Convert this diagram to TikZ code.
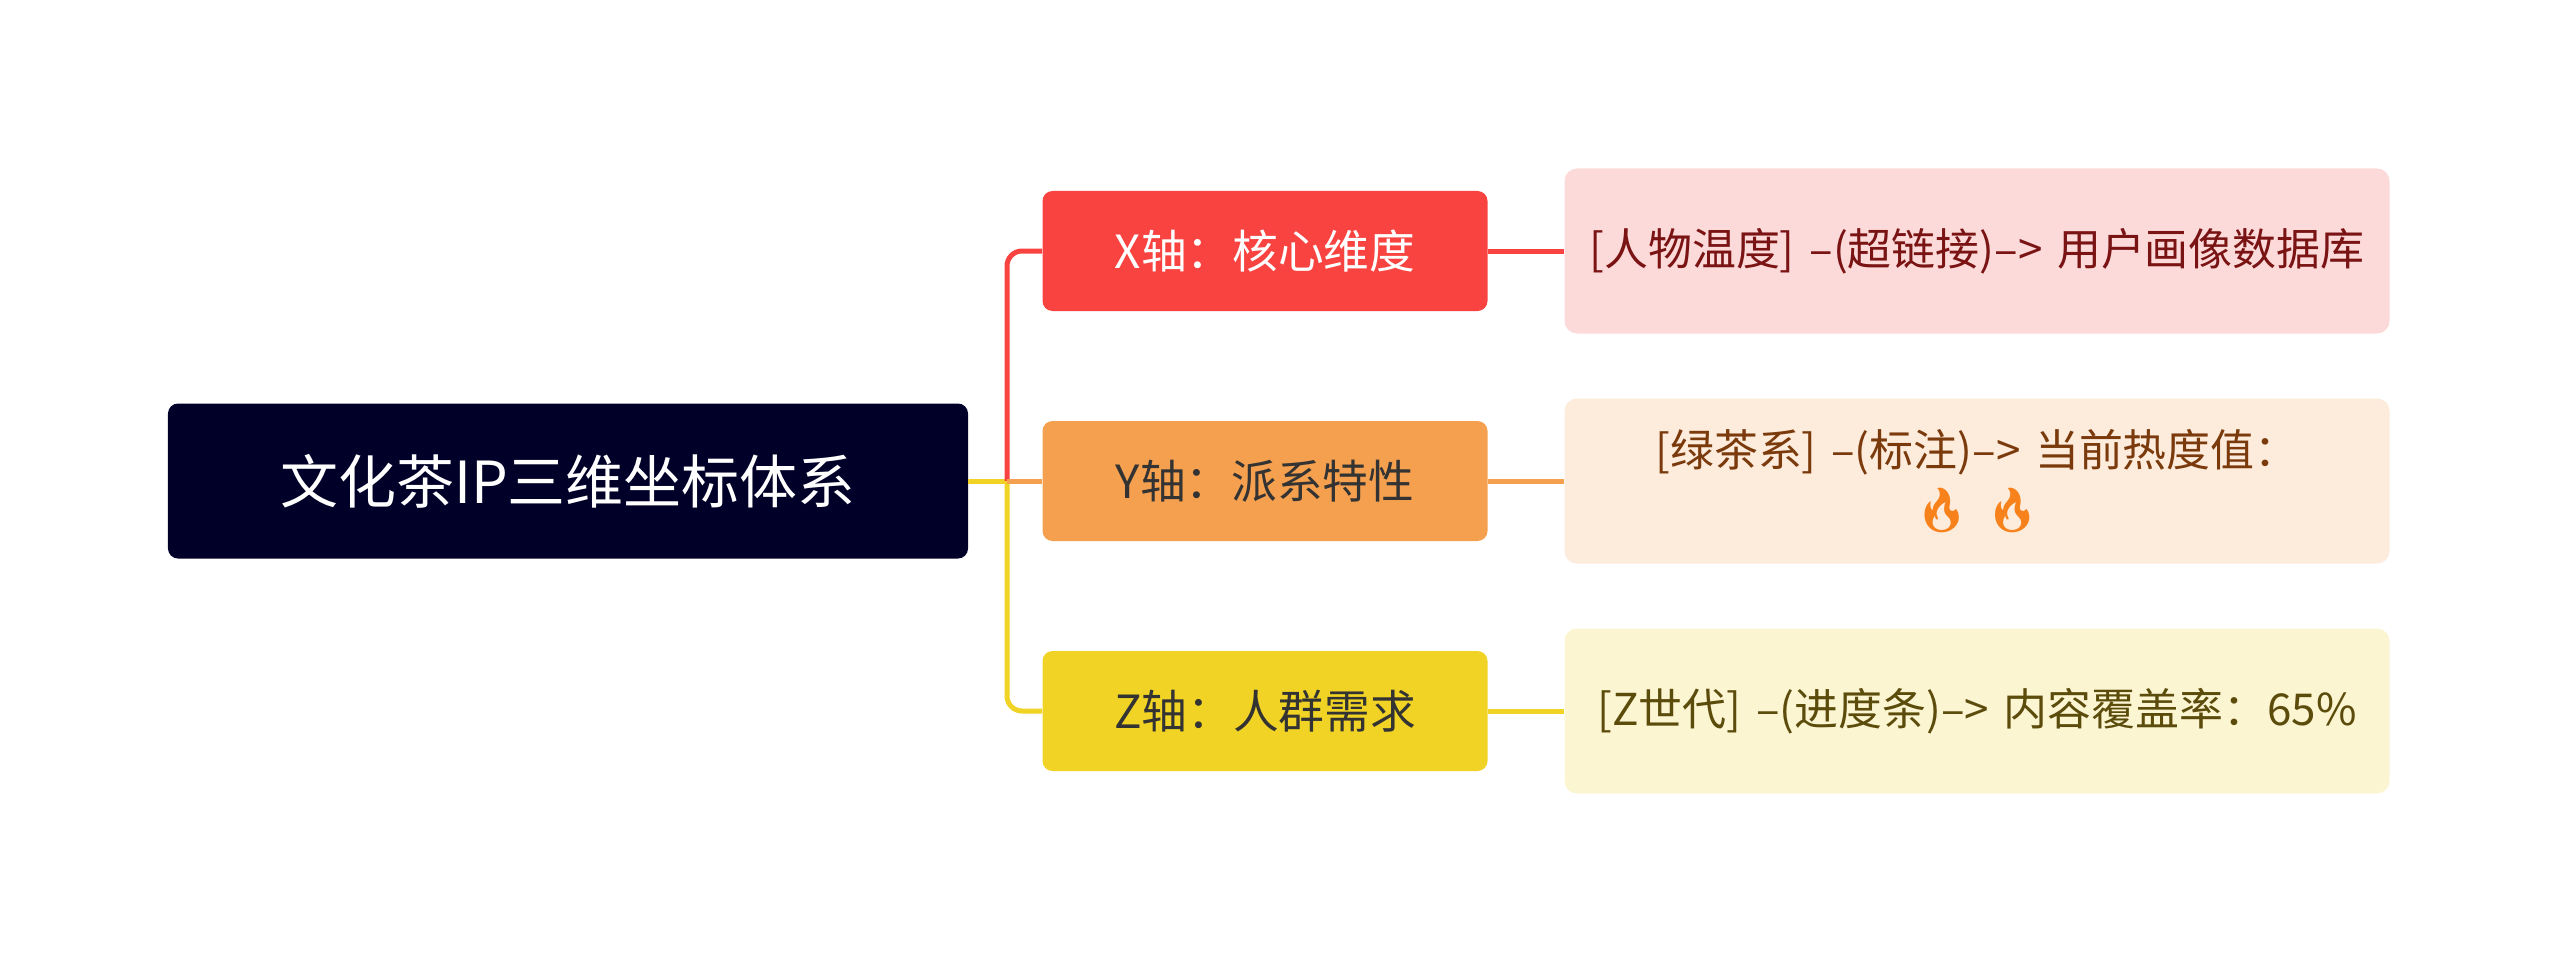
\documentclass[tikz,border=0pt]{standalone}
\usepackage{fontspec}
\setmainfont{Noto Sans CJK SC}
\newfontfamily\emojifont{Noto Emoji}
\usetikzlibrary{positioning}
\definecolor{rootbg}{HTML}{000028}
\definecolor{xcol}{HTML}{F94340}
\definecolor{ycol}{HTML}{F5A04E}
\definecolor{zcol}{HTML}{F0D324}
\definecolor{xleaf}{HTML}{FDDADA}
\definecolor{yleaf}{HTML}{FDEBDC}
\definecolor{zleaf}{HTML}{FCF5D2}
\definecolor{xtext}{HTML}{7A1414}
\definecolor{ytext}{HTML}{7A3A0C}
\definecolor{ztext}{HTML}{5C4C0C}
\definecolor{fire}{HTML}{F7821B}
\tikzset{
  rootbox/.style={fill=rootbg,text=white,rounded corners=2mm,minimum width=160mm,minimum height=31mm,font=\fontsize{33}{40}\selectfont},
  axisbox/.style={rounded corners=2mm,minimum width=89mm,minimum height=24mm,font=\fontsize{26}{32}\selectfont},
  leafbox/.style={rounded corners=2.5mm,minimum width=165mm,minimum height=33mm,text width=160mm,align=center,font=\fontsize{25}{34}\selectfont},
  link/.style={line width=1mm,rounded corners=3mm}
}
\begin{document}
\begin{tikzpicture}[x=0.2mm,y=-0.2mm]
\useasboundingbox (0,0) rectangle (2560,964);
\node[rootbox] (root) at (568,481) {文化茶IP三维坐标体系};
\node[axisbox,fill=xcol,text=white] (xaxis) at (1265,251) {X轴：核心维度};
\node[axisbox,fill=ycol,text=black!80] (yaxis) at (1265,481) {Y轴：派系特性};
\node[axisbox,fill=zcol,text=black!80] (zaxis) at (1265,711) {Z轴：人群需求};
\node[leafbox,fill=xleaf,text=xtext] (xleaf) at (1977,251) {[人物温度] --(超链接)--> 用户画像数据库};
\node[leafbox,fill=yleaf,text=ytext] (yleaf) at (1977,481) {[绿茶系] --(标注)--> 当前热度值：\\{\emojifont\textcolor{fire}{🔥} \textcolor{fire}{🔥}}};
\node[leafbox,fill=zleaf,text=ztext] (zleaf) at (1977,711) {[Z世代] --(进度条)--> 内容覆盖率：65\%};
\coordinate (bus) at (1007,481);
% connectors
\draw[link,zcol] (root.east) -- (bus);
\draw[link,xcol] (bus) |- (xaxis.west);
\draw[link,zcol] (bus) |- (zaxis.west);
\draw[link,ycol] (bus) -- (yaxis.west);
\draw[link,xcol] (xaxis.east) -- (xleaf.west);
\draw[link,ycol] (yaxis.east) -- (yleaf.west);
\draw[link,zcol] (zaxis.east) -- (zleaf.west);
\end{tikzpicture}
\end{document}
